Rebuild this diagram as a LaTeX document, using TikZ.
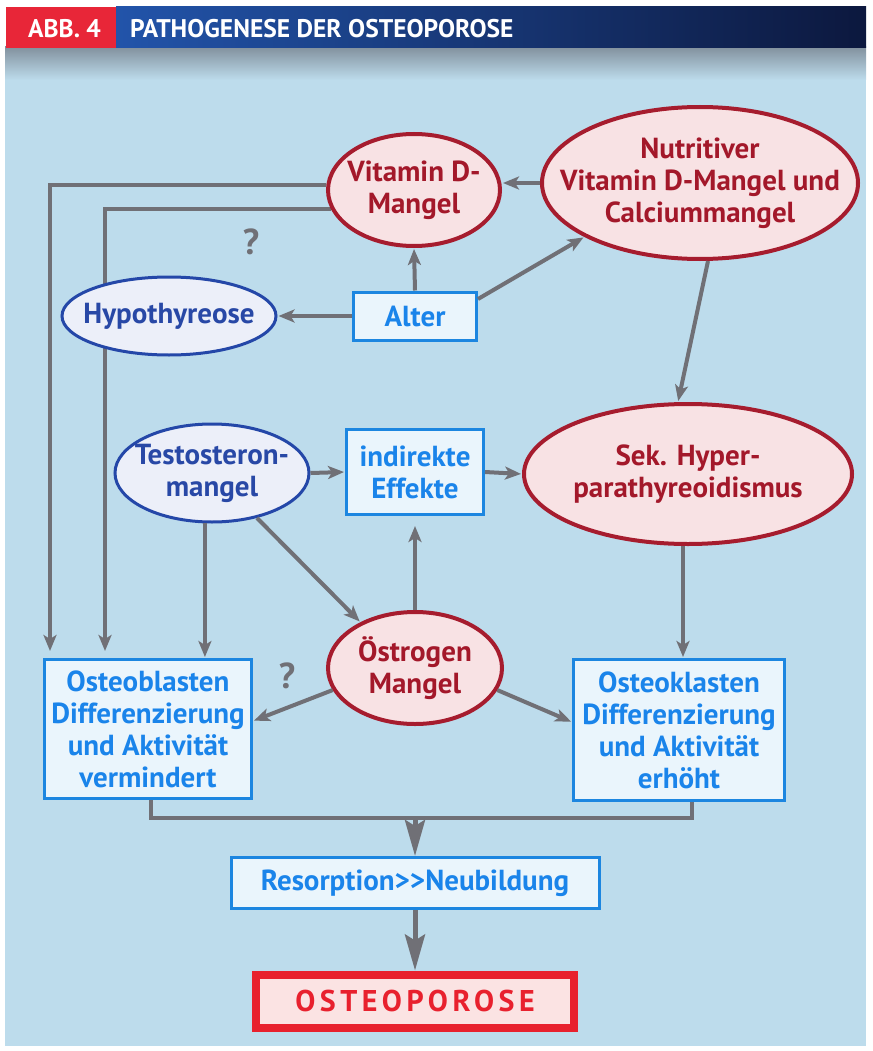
\documentclass[tikz,border=0pt]{standalone}
\usepackage{fontspec}
\setmainfont{PT Sans}
\usetikzlibrary{arrows.meta}
\usetikzlibrary{shapes.geometric}

\definecolor{bgblue}{RGB}{189,220,236}
\definecolor{bggrey}{RGB}{130,145,158}
\definecolor{headred}{RGB}{232,38,56}
\definecolor{headblue}{RGB}{34,84,170}
\definecolor{headnavy}{RGB}{12,24,62}
\definecolor{arrowgrey}{RGB}{112,112,118}
\definecolor{redline}{RGB}{166,28,46}
\definecolor{redfill}{RGB}{248,226,228}
\definecolor{redtext}{RGB}{163,24,42}
\definecolor{blueline}{RGB}{36,71,168}
\definecolor{bluefill}{RGB}{236,239,249}
\definecolor{bluetext}{RGB}{40,72,166}
\definecolor{boxline}{RGB}{28,134,224}
\definecolor{boxfill}{RGB}{234,245,252}
\definecolor{boxtext}{RGB}{26,132,234}
\definecolor{osteored}{RGB}{232,33,46}
\definecolor{osteofill}{RGB}{251,227,227}

\pgfdeclarelayer{back}
\pgfdeclarelayer{wires}
\pgfsetlayers{back,wires,main}

\tikzset{lbl/.style = {font = \bfseries\fontsize{29}{32}\selectfont, align = center}}
\tikzset{headtxt/.style = {text = white, font = \bfseries\fontsize{25.5}{28}\selectfont, inner sep = 0}}
\tikzset{redell/.style = {ellipse, draw = redline, fill = redfill, line width = 4, inner sep = 0,
    label = {[lbl, text = redtext]center:{#1}}}}
\tikzset{blueell/.style = {ellipse, draw = blueline, fill = bluefill, line width = 3, inner sep = 0,
    label = {[lbl, text = bluetext]center:{#1}}}}
\tikzset{bbox/.style = {rectangle, draw = boxline, fill = boxfill, line width = 3, inner sep = 0, lbl, text = boxtext}}
\tikzset{arr/.style = {draw = arrowgrey, line width = 4, shorten > = 1, -{Stealth[length = 16, width = 13, inset = 4]}}}
\tikzset{bigarr/.style = {draw = arrowgrey, line width = 5, -{Stealth[length = 36, width = 20, inset = 6]}}}
\tikzset{quest/.style = {text = arrowgrey, font = \bfseries\fontsize{36}{40}\selectfont}}

\begin{document}
\begin{tikzpicture}[x = 1pt, y = -1pt]
    \useasboundingbox (0, 0) rectangle (872, 1051);
    \begin{pgfonlayer}{back}
    \fill [white] (0, 0) rectangle (872, 1051);
    \fill [bgblue] (5, 47) rectangle (866, 1046);
    \shade [top color = bggrey, bottom color = bgblue] (5, 47) rectangle (866, 80);
    \fill [headred] (6, 7) rectangle (116, 48);
    \shade [left color = headblue, right color = headnavy] (116, 7) rectangle (866, 48);
    \end{pgfonlayer}
    \node [headtxt, anchor = west] (abb) at (28, 29) {ABB. 4};
    \node [headtxt, anchor = west] (title) at (130, 29) {PATHOGENESE DER OSTEOPOROSE};

    \node [redell = {Vitamin D-\\Mangel}, minimum width = 172, minimum height = 112] (vitd) at (414, 190) {};
    \node [redell = {Nutritiver\\Vitamin D-Mangel und\\Calciummangel}, minimum width = 316, minimum height = 152] (nutr) at (700, 183) {};
    \node [bbox, minimum width = 123, minimum height = 48] (alter) at (415, 316) {Alter};
    \node [blueell = {Hypothyreose}, minimum width = 214, minimum height = 78] (hypo) at (169, 316) {};
    \node [blueell = {Testosteron-\\mangel}, minimum width = 194, minimum height = 98] (testo) at (212, 473) {};
    \node [bbox, minimum width = 137, minimum height = 85] (ind) at (415, 472) {indirekte\\Effekte};
    \node [redell = {Sek. Hyper-\\parathyreoidismus}, minimum width = 328, minimum height = 140] (sek) at (688, 474) {};
    \node [redell = {Östrogen\\Mangel}, minimum width = 174, minimum height = 112] (oestr) at (415, 668) {};
    \node [bbox, minimum width = 207, minimum height = 139] (obl) at (148, 729) {Osteoblasten\\Differenzierung\\und Aktivität\\vermindert};
    \node [bbox, minimum width = 211, minimum height = 141] (okl) at (679, 730) {Osteoklasten\\Differenzierung\\und Aktivität\\erhöht};
    \node [bbox, minimum width = 368, minimum height = 51] (res) at (415, 883) {Resorption>\kern0pt>Neubildung};
    \node [rectangle, draw = osteored, fill = osteofill, line width = 8, inner sep = 0, minimum width = 318, minimum height = 53,
        text = osteored, font = \bfseries\fontsize{30}{32}\selectfont\addfontfeatures{LetterSpace = 15}] (osteo) at (415, 1001) {OSTEOPOROSE};

    \node [quest] (q1) at (251, 242) {?};
    \node [quest] (q2) at (287, 676) {?};

    \draw [arr] (nutr.west) -- (vitd.east |- nutr.west);
    \draw [arr] (alter.north) -- (vitd.south);
    \draw [arr] (alter.west) -- (hypo.east);
    \draw [arr] ([yshift = 17]alter.east) -- (nutr.205);
    \draw [arr] ([xshift = 8]nutr.south) -- ([xshift = -10]sek.north);
    \begin{pgfonlayer}{wires}
    \draw [arr] (vitd.177) -| ([xshift = 7, yshift = 6]obl.north west);
    \draw [arr] (vitd.193) -| ([xshift = 62, yshift = 6]obl.north west);
    \end{pgfonlayer}
    \draw [arr] (testo.east) -- (ind.west);
    \draw [arr] (ind.east) -- (sek.west);
    \draw [arr] (oestr.north) -- ([yshift = -9]ind.south);
    \draw [arr] (testo.-45) -- (oestr.140);
    \draw [arr] (testo.262) -- (testo.262 |- obl.north);
    \draw [arr] (oestr.195) -- ([yshift = 8]obl.east);
    \draw [arr] (oestr.-15) -- ([yshift = 8]okl.west);
    \draw [arr] ([xshift = -5]sek.south) -- ([xshift = -5]sek.south |- okl.north);

    \draw [draw = arrowgrey, line width = 4] ([xshift = 3]obl.south) -- ++(0, 18) coordinate (jl) -| ([xshift = 13]okl.south);
    \draw [bigarr] (jl -| res.north) -- (res.north);
    \draw [bigarr] (res.south) -- (osteo.north);
\end{tikzpicture}
\end{document}
